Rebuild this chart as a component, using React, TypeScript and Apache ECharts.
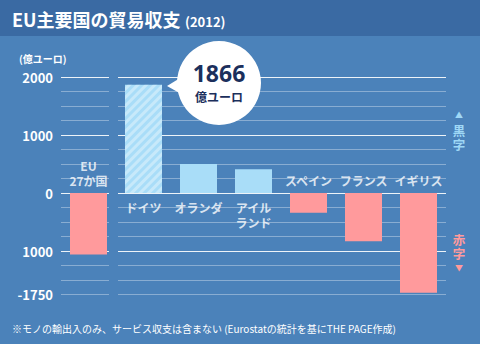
import React, { useEffect, useRef } from "react";
import * as echarts from "echarts";

const categories = ["EU\n27か国", "ドイツ", "オランダ", "アイル\nランド", "スペイン", "フランス", "イギリス"];
const balances = [-1060, 1866, 500, 410, -340, -830, -1720];
const yTickLabels: Record<string, string> = {
  "2000": "2000",
  "1000": "1000",
  "0": "0",
  "-1000": "1000",
  "-1750": "-1750",
};
const highlightValue = "1866";
const highlightUnit = "億ユーロ";

const BG = "#4b82ba";
const HEADER = "#3a6aa3";
const POS = "#a9ddf8";
const NEG = "#ff9a9c";
const FONT = "'Noto Sans CJK JP', 'Noto Sans', sans-serif";

export default function App() {
  const ref = useRef<HTMLDivElement>(null);
  useEffect(() => {
    if (!ref.current) return;
    const chart = echarts.init(ref.current, undefined, { renderer: "svg" });
    const sideText = (text: string, y: number, color: string, size: number, bold: boolean) => ({
      type: "text",
      x: 459,
      y,
      z: 6,
      style: {
        text,
        fill: color,
        font: `${bold ? "bold " : ""}${size}px ${FONT}`,
        lineHeight: 13,
        align: "center",
        verticalAlign: "middle",
      },
    });
    chart.setOption({
      animation: false,
      backgroundColor: BG,
      textStyle: { fontFamily: FONT },
      grid: { left: 61, right: 34, top: 77, bottom: 49.5 },
      xAxis: {
        type: "category",
        data: categories,
        axisLine: { show: false },
        axisTick: { show: false },
        axisLabel: { show: false },
        splitLine: { show: false },
      },
      yAxis: {
        type: "value",
        min: -1750,
        max: 2000,
        interval: 250,
        axisLine: { show: false },
        axisTick: { show: false },
        axisLabel: {
          color: "#ffffff",
          fontWeight: "bold",
          fontSize: 13,
          margin: 8,
          fontFamily: FONT,
          formatter: (v: number) => yTickLabels[String(v)] ?? "",
        },
        splitLine: {
          lineStyle: {
            color: [
              "rgba(255,255,255,0.35)",
              "rgba(255,255,255,0.35)",
              "rgba(255,255,255,0.35)",
              "rgba(255,255,255,0.9)",
            ],
            width: 1,
          },
        },
      },
      series: [
        {
          type: "bar",
          barWidth: 37,
          z: 3,
          data: balances.map((v, i) => ({
            value: v,
            itemStyle: {
              color: v >= 0 ? POS : NEG,
              decal:
                i === 1
                  ? {
                      symbol: "rect",
                      symbolSize: 1,
                      dashArrayX: [[1, 0]],
                      dashArrayY: [3, 3],
                      rotation: -Math.PI / 4,
                      color: "rgba(255,255,255,0.35)",
                    }
                  : undefined,
            },
          })),
        },
        {
          type: "scatter",
          symbolSize: 0,
          z: 5,
          data: balances.map((v, i) => ({
            value: [i, 0],
            label: {
              show: true,
              position: v >= 0 ? "bottom" : "top",
              distance: v >= 0 ? 7 : 5,
              formatter: categories[i],
              color: "#ffffff",
              fontWeight: "bold",
              fontSize: 12,
              lineHeight: 15,
              fontFamily: FONT,
            },
          })),
        },
      ],
      graphic: [
        { type: "rect", shape: { x: 0, y: 0, width: 480, height: 36 }, style: { fill: HEADER }, z: 1 },
        {
          type: "text",
          x: 12,
          y: 19,
          z: 6,
          style: { text: "EU主要国の貿易収支", fill: "#fff", font: `bold 18px ${FONT}`, verticalAlign: "middle" },
        },
        {
          type: "text",
          x: 185,
          y: 21,
          z: 6,
          style: { text: "(2012)", fill: "#fff", font: `bold 13px ${FONT}`, verticalAlign: "middle" },
        },
        {
          type: "text",
          x: 19,
          y: 58,
          z: 6,
          style: { text: "(億ユーロ)", fill: "#fff", font: `bold 10px ${FONT}`, verticalAlign: "middle" },
        },
        { type: "rect", shape: { x: 109, y: 70, width: 9, height: 235 }, style: { fill: BG }, z: 2 },
        {
          type: "polygon",
          shape: { points: [[167, 86], [190, 72], [192, 100]] },
          style: { fill: "#ffffff" },
          z: 10,
        },
        { type: "circle", shape: { cx: 219, cy: 83, r: 42 }, style: { fill: "#ffffff" }, z: 10 },
        {
          type: "text",
          x: 219,
          y: 73,
          z: 11,
          style: {
            text: highlightValue,
            fill: "#1b2f5c",
            font: `bold 23px 'Noto Sans', ${FONT}`,
            align: "center",
            verticalAlign: "middle",
          },
        },
        {
          type: "text",
          x: 219,
          y: 96,
          z: 11,
          style: {
            text: highlightUnit,
            fill: "#1b2f5c",
            font: `bold 12px ${FONT}`,
            align: "center",
            verticalAlign: "middle",
          },
        },
        sideText("▲", 114, "#9fd8f6", 8, false),
        sideText("黒", 130, "#9fd8f6", 12.5, true),
        sideText("字", 144, "#9fd8f6", 12.5, true),
        sideText("赤", 239, "#ff9a9c", 12.5, true),
        sideText("字", 253, "#ff9a9c", 12.5, true),
        sideText("▼", 267, "#ff9a9c", 8, false),
        {
          type: "text",
          x: 12,
          y: 328,
          z: 6,
          style: {
            text: "※モノの輸出入のみ、サービス収支は含まない (Eurostatの統計を基にTHE PAGE作成)",
            fill: "#fff",
            font: `10px ${FONT}`,
            verticalAlign: "middle",
          },
        },
      ],
    });
    return () => chart.dispose();
  }, []);
  return <div ref={ref} style={{ width: 480, height: 344, position: "absolute", left: 0, top: 0 }} />;
}
